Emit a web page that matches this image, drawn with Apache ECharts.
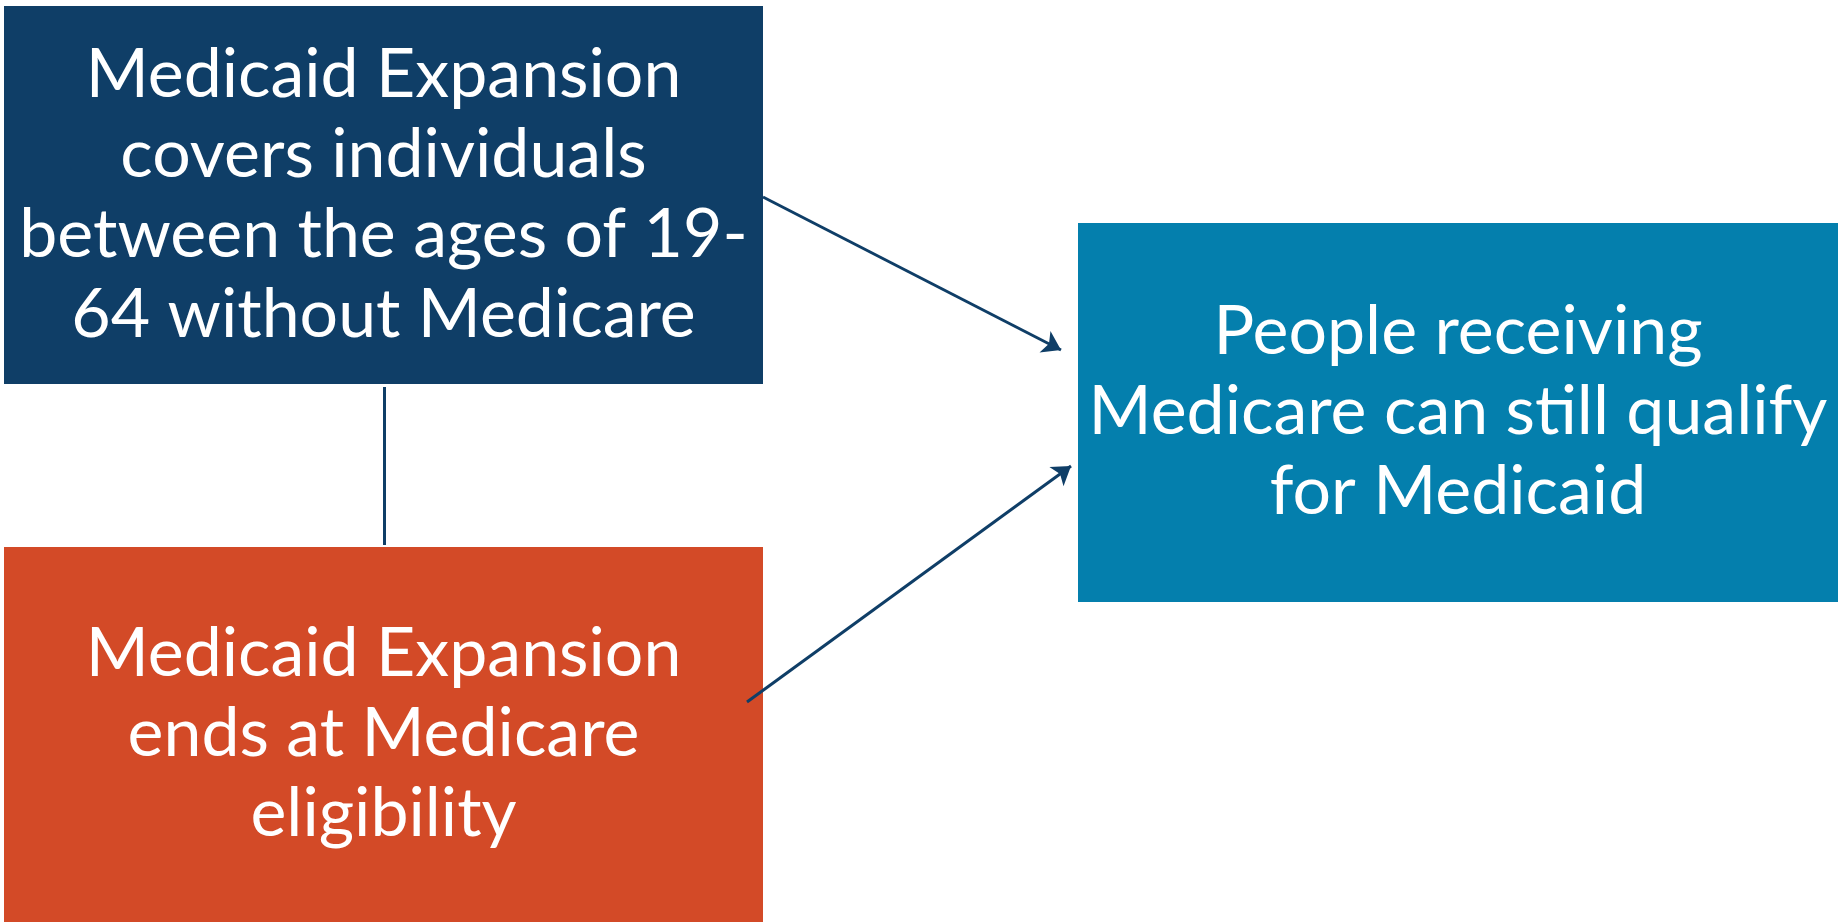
<!DOCTYPE html>
<html><head><meta charset="utf-8">
<script src="https://cdn.jsdelivr.net/npm/echarts@6/dist/echarts.min.js"></script>
<style>html,body{margin:0;padding:0;background:#fff}#c{width:1848px;height:922px}</style>
</head><body><div id="c"></div>
<script>
// Box labels (lines as in the original)
const boxLabels = [
  ['Medicaid Expansion', 'covers individuals', 'between the ages of 19-', '64 without Medicare'],
  ['Medicaid Expansion', 'ends at Medicare', 'eligibility'],
  ['People receiving', 'Medicare can still qualify', 'for Medicaid']
];
// Box extents in the page's coordinate space [x0, y0, x1, y1]
const boxExtents = [
  [4, 6, 763, 384],
  [4, 547, 763, 922],
  [1078, 223, 1838, 602]
];
const boxColors = ['#0f3e67', '#d34a27', '#047fad'];
// Connectors [from, to]
const connectors = [
  [[384, 387], [384, 545]],
  [[763, 197], [1061, 350]],
  [[747, 702], [1071, 466]]
];
const connectorArrow = [false, true, true];

const chart = echarts.init(document.getElementById('c'), null, {renderer: 'canvas'});
const FONT = 'Lato';
chart.setOption({
  animation: false,
  grid: {left: 0, right: 0, top: 0, bottom: 0},
  xAxis: {type: 'value', min: 0, max: 1848, show: false},
  yAxis: {type: 'value', min: 0, max: 922, inverse: true, show: false},
  series: [
    {
      type: 'custom',
      coordinateSystem: 'cartesian2d',
      data: boxExtents.map((e, i) => [e[0], e[1], e[2], e[3], i]),
      renderItem: function (params, api) {
        const p0 = api.coord([api.value(0), api.value(1)]);
        const p1 = api.coord([api.value(2), api.value(3)]);
        const i = api.value(4);
        return {
          type: 'rect',
          shape: {x: p0[0], y: p0[1], width: p1[0] - p0[0], height: p1[1] - p0[1]},
          style: {fill: boxColors[i]},
          textContent: {
            style: {
              text: boxLabels[i].join('\n'),
              fill: '#ffffff',
              fontFamily: FONT,
              fontSize: 68,
              lineHeight: 80,
              align: 'center',
              verticalAlign: 'middle'
            }
          },
          textConfig: {position: 'inside'}
        };
      }
    },
    {
      type: 'lines',
      coordinateSystem: 'cartesian2d',
      polyline: false,
      data: connectors.filter((c, i) => !connectorArrow[i]).map(c => ({coords: c})),
      symbol: ['none', 'none'],
      lineStyle: {color: '#0f3e67', width: 3, opacity: 1}
    },
    {
      type: 'lines',
      coordinateSystem: 'cartesian2d',
      polyline: false,
      data: connectors.filter((c, i) => connectorArrow[i]).map(c => ({coords: c})),
      symbol: ['none', 'arrow'],
      symbolSize: [0, 18],
      lineStyle: {color: '#0f3e67', width: 3, opacity: 1}
    }
  ]
});
</script>
</body></html>
